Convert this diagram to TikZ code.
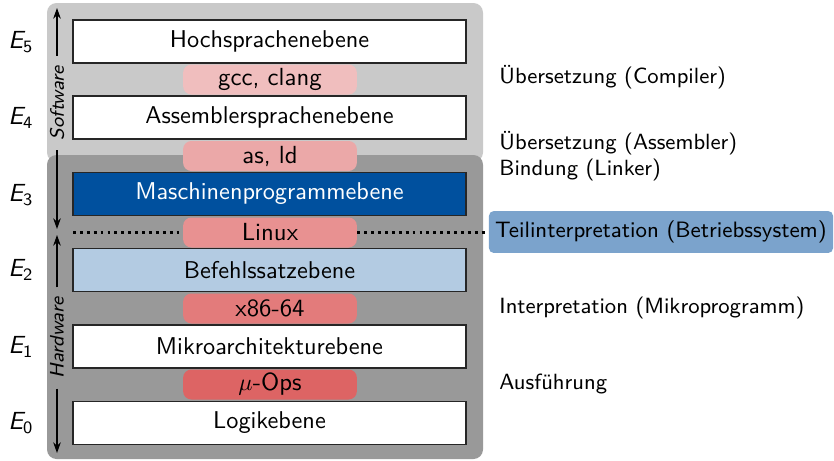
\documentclass[tikz,border=0pt]{standalone}
\usepackage{fontspec}
\renewcommand\familydefault{\sfdefault}
\usetikzlibrary{arrows.meta}

\definecolor{swbg}{RGB}{201,201,201}
\definecolor{hwbg}{RGB}{153,153,153}
\definecolor{isadark}{RGB}{0,80,158}
\definecolor{isalight}{RGB}{179,203,226}
\definecolor{osblue}{RGB}{123,163,204}
\definecolor{toolA}{RGB}{240,190,190}
\definecolor{toolB}{RGB}{235,168,168}
\definecolor{toolC}{RGB}{232,145,145}
\definecolor{toolD}{RGB}{227,123,123}
\definecolor{toolE}{RGB}{221,100,100}

\tikzset{
  layerbox/.style={draw=black!85, line width=0.5pt, fill=white, inner sep=0pt,
    minimum width=165pt, minimum height=18pt, font=\fontsize{10.2pt}{12pt}\selectfont},
  toolpill/.style={rounded corners=3.5pt, inner sep=0pt,
    minimum width=73pt, minimum height=12.6pt, font=\fontsize{10.4pt}{12pt}\selectfont},
  sidelabel/.style={anchor=west, inner sep=0pt, font=\fontsize{9.25pt}{11pt}\selectfont},
  levellabel/.style={inner sep=0pt, font=\fontsize{10.4pt}{12pt}\selectfont},
  axislabel/.style={rotate=90, font=\fontsize{8.2pt}{10pt}\selectfont\itshape, inner sep=4pt},
  axisarrow/.style={-{Stealth[length=4.5pt,width=3.2pt]}, line width=0.5pt},
  osline/.style={line width=1.2pt, dash pattern=on 1.2pt off 1.7pt}
}

\begin{document}
\begin{tikzpicture}[x=0.42pt,y=-0.42pt]
  \useasboundingbox (0,0) rectangle (834,460);

  % software and hardware backgrounds
  \fill[swbg, rounded corners=4pt] (47,3) rectangle (483,162);
  \fill[hwbg, rounded corners=4pt] (47,155) rectangle (483,459);

  % level boxes
  \node[layerbox] (hll)  at (269.5,41.5)  {Hochsprachenebene};
  \node[layerbox] (asm)  at (269.5,117.5) {Assemblersprachenebene};
  \node[layerbox, fill=isadark, text=white] (mach) at (269.5,194) {Maschinenprogrammebene};
  \node[layerbox, fill=isalight] (isa)  at (269.5,270)   {Befehlssatzebene};
  \node[layerbox] (march) at (269.5,346.5) {Mikroarchitekturebene};
  \node[layerbox] (logic) at (269.5,423)   {Logikebene};

  % tools between the levels
  \node[toolpill, fill=toolA] (gcc)   at (270,79.5)  {gcc, clang};
  \node[toolpill, fill=toolB] (asld)  at (270,156)   {as, ld};
  \node[toolpill, fill=toolC] (linux) at (270,232.5) {Linux};
  \node[toolpill, fill=toolD] (x86)   at (270,308.5) {x86-64};
  \node[toolpill, fill=toolE] (uops)  at (270,384.5) {$\mu$-Ops};

  % operating system partial interpretation
  \node[fill=osblue, rounded corners=2pt, inner sep=0pt,
        minimum width=144.5pt, minimum height=17.6pt,
        font=\fontsize{9.35pt}{11pt}\selectfont] (os) at (661,232)
        {Teilinterpretation (Betriebssystem)};
  \coordinate (osleft) at (73,232.5);
  \draw[osline] (osleft) -- (linux.west);
  \draw[osline] (linux.east) -- (os.west |- linux.east);

  % translation / interpretation labels
  \node[sidelabel] (l1) at (499,77)  {Übersetzung (Compiler)};
  \node[sidelabel] (l2) at (499,143) {Übersetzung (Assembler)};
  \node[sidelabel] (l3) at (499,170) {Bindung (Linker)};
  \node[sidelabel] (l4) at (499,308) {Interpretation (Mikroprogramm)};
  \node[sidelabel] (l5) at (499,384) {Ausführung};

  % level names
  \node[levellabel] (e5) at (21,42)  {\itshape E$_{\mathsf{5}}$};
  \node[levellabel] (e4) at (21,118) {\itshape E$_{\mathsf{4}}$};
  \node[levellabel] (e3) at (21,195) {\itshape E$_{\mathsf{3}}$};
  \node[levellabel] (e2) at (21,270) {\itshape E$_{\mathsf{2}}$};
  \node[levellabel] (e1) at (21,347) {\itshape E$_{\mathsf{1}}$};
  \node[levellabel] (e0) at (21,423) {\itshape E$_{\mathsf{0}}$};

  % software / hardware axes
  \node[axislabel] (sw) at (57,103) {Software};
  \coordinate (swtop) at (57,8);
  \coordinate (swbot) at (57,229);
  \draw[axisarrow] (sw.east) -- (swtop);
  \draw[axisarrow] (sw.west) -- (swbot);

  \node[axislabel] (hw) at (57,338) {Hardware};
  \coordinate (hwtop) at (57,235);
  \coordinate (hwbot) at (57,453);
  \draw[axisarrow] (hw.east) -- (hwtop);
  \draw[axisarrow] (hw.west) -- (hwbot);
\end{tikzpicture}
\end{document}
